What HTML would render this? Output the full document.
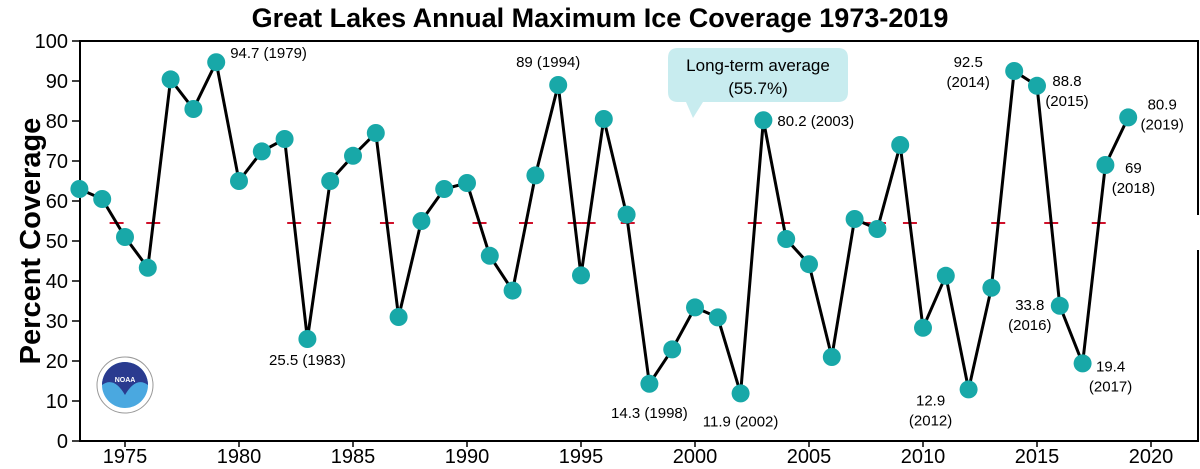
<!DOCTYPE html>
<html><head><meta charset="utf-8"><style>
body{margin:0;background:#fff;}
svg{display:block;font-family:"Liberation Sans",Arial,sans-serif;}
</style></head><body>
<svg id="chart" width="1200" height="469" viewBox="0 0 1200 469">
<text x="600" y="27" text-anchor="middle" font-size="27" font-weight="bold">Great Lakes Annual Maximum Ice Coverage 1973-2019</text>
<text transform="translate(40,241) rotate(-90)" text-anchor="middle" font-size="29" font-weight="bold">Percent Coverage</text>
<g id="axes"></g>
<g id="avg"></g>
<g id="series"></g>
<g id="labels"></g>
<g>
<path d="M680,48 H838 Q848,48 848,58 V92 Q848,102 838,102 H703 L693,118 L686,102 H678 Q668,102 668,92 V58 Q668,48 678,48 Z" fill="#c8ecef"/>
<text x="758" y="71" text-anchor="middle" font-size="17">Long-term average</text>
<text x="758" y="94" text-anchor="middle" font-size="17">(55.7%)</text>
</g>
<g>
<circle cx="125" cy="385" r="28" fill="#fff" stroke="#999" stroke-width="1"/>
<circle cx="125" cy="385" r="23" fill="#4aa8e0"/>
<path d="M102,385 A23,23 0 0 1 148,385 Q136,376 125,395 Q114,376 102,385 Z" fill="#2a3b8f"/>
<text x="125" y="382" text-anchor="middle" font-size="7" fill="#fff" font-weight="bold">NOAA</text>
</g>
</svg>
<script>
const years=[1973,1974,1975,1976,1977,1978,1979,1980,1981,1982,1983,1984,1985,1986,1987,1988,1989,1990,1991,1992,1993,1994,1995,1996,1997,1998,1999,2000,2001,2002,2003,2004,2005,2006,2007,2008,2009,2010,2011,2012,2013,2014,2015,2016,2017,2018,2019];
const coverage=[63,60.5,51,43.3,90.4,83,94.7,65,72.4,75.5,25.5,65,71.3,77,31,55,63,64.5,46.3,37.6,66.4,89,41.4,80.5,56.6,14.3,22.9,33.4,30.9,11.9,80.2,50.5,44.2,21,55.5,53,74,28.3,41.3,12.9,38.3,92.5,88.8,33.8,19.4,69,80.9];
const yTicks=[0,10,20,30,40,50,60,70,80,90,100];
const xTicks=[1975,1980,1985,1990,1995,2000,2005,2010,2015,2020];
const avgValue=54.5;
const annYears=[1979,1983,1994,1998,2002,2003,2012,2014,2015,2016,2017,2018,2019];
const annText=[["94.7 (1979)"],["25.5 (1983)"],["89 (1994)"],["14.3 (1998)"],["11.9 (2002)"],["80.2 (2003)"],["12.9","(2012)"],["92.5","(2014)"],["88.8","(2015)"],["33.8","(2016)"],["19.4","(2017)"],["69","(2018)"],["80.9","(2019)"]];
const annOff=[[14,-4,'start'],[0,26,'middle'],[-10,-18,'middle'],[0,34,'middle'],[0,33,'middle'],[14,6,'start'],[-38,16,'middle'],[-46,-4,'middle'],[30,0,'middle'],[-30,4,'middle'],[28,8,'middle'],[28,8,'middle'],[34,-8,'middle']];
const NS='http://www.w3.org/2000/svg';
const X=y=>125+(y-1975)*22.8, Y=v=>441-v*4;
function mk(t,a,p){const e=document.createElementNS(NS,t);for(const k in a)e.setAttribute(k,a[k]);p.appendChild(e);return e;}
const axes=document.getElementById('axes');
const frame=mk('path',{d:'M1198,215 V41 H80 V441 H1198 V250',fill:'none',stroke:'#000','stroke-width':2},axes);


yTicks.forEach(v=>{
 const l=mk('line',{x1:72,x2:80,y1:Y(v),y2:Y(v),stroke:'#000','stroke-width':1.5},axes);
 
 
 const t=mk('text',{x:68,y:Y(v)+7,'text-anchor':'end','font-size':20},axes);t.textContent=v;
 
 
});
xTicks.forEach(v=>{
 const l=mk('line',{x1:X(v),x2:X(v),y1:441,y2:447,stroke:'#000','stroke-width':1.5},axes);
 
 
 const t=mk('text',{x:X(v),y:463,'text-anchor':'middle','font-size':20},axes);t.textContent=v;
 
 
});
const avg=document.getElementById('avg');
for(let i=0;i<years.length-1;i++){
 const a=coverage[i]-avgValue,b=coverage[i+1]-avgValue;
 if(a*b<=0){const f=a/(a-b);const cx=X(years[i])+f*(X(years[i+1])-X(years[i]));
  const d=mk('line',{x1:cx-7,x2:cx+7,y1:Y(avgValue),y2:Y(avgValue),stroke:'#d0102a','stroke-width':2},avg);
  
  }
}
const s=document.getElementById('series');
const line=mk('polyline',{points:years.map((y,i)=>X(y)+','+Y(coverage[i])).join(' '),fill:'none',stroke:'#000','stroke-width':3},s);


years.forEach((y,i)=>{
 const c=mk('circle',{cx:X(y),cy:Y(coverage[i]),r:9,fill:'#18a8a8'},s);
 
 
});
const lab=document.getElementById('labels');
annYears.forEach((y,k)=>{
 const i=years.indexOf(y);const o=annOff[k];
 const t=mk('text',{x:X(y)+o[0],y:Y(coverage[i])+o[1],'text-anchor':o[2],'font-size':15},lab);
 
 
 annText[k].forEach((s2,j)=>{const ts=mk('tspan',{x:X(y)+o[0],dy:j?20:0},t);ts.textContent=s2;});
});
</script>
</body></html>
